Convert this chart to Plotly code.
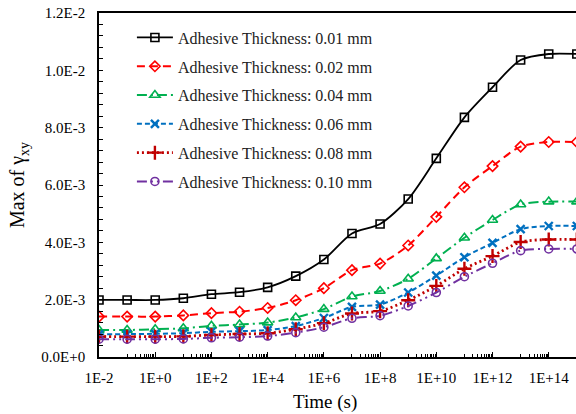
import plotly.graph_objects as go

# Time points (s), one per decade from 1E-2 to 1E+15
time_s = [1e-2, 1e-1, 1e0, 1e1, 1e2, 1e3, 1e4, 1e5, 1e6, 1e7,
          1e8, 1e9, 1e10, 1e11, 1e12, 1e13, 1e14, 1e15]

# Maximum shear strain gamma_xy for each adhesive thickness
gamma_001 = [0.00199, 0.00199, 0.00199, 0.00205, 0.00219, 0.00226, 0.00243, 0.00282, 0.00340,
             0.00431, 0.00464, 0.00551, 0.00693, 0.00836, 0.00941, 0.01036, 0.01057, 0.01057]
gamma_002 = [0.00141, 0.00141, 0.00141, 0.00145, 0.00153, 0.00158, 0.00171, 0.00198, 0.00240,
             0.00303, 0.00326, 0.00389, 0.00489, 0.00592, 0.00666, 0.00734, 0.00750, 0.00750]
gamma_004 = [0.00094, 0.00094, 0.00097, 0.00100, 0.00109, 0.00113, 0.00120, 0.00138, 0.00167,
             0.00211, 0.00230, 0.00273, 0.00344, 0.00416, 0.00478, 0.00532, 0.00542, 0.00542]
gamma_006 = [0.00079, 0.00080, 0.00081, 0.00083, 0.00088, 0.00090, 0.00094, 0.00108, 0.00136,
             0.00175, 0.00183, 0.00225, 0.00284, 0.00348, 0.00398, 0.00446, 0.00457, 0.00457]
gamma_008 = [0.00071, 0.00071, 0.00071, 0.00072, 0.00077, 0.00080, 0.00083, 0.00097, 0.00118,
             0.00152, 0.00160, 0.00198, 0.00248, 0.00308, 0.00352, 0.00401, 0.00410, 0.00410]
gamma_010 = [0.00062, 0.00062, 0.00062, 0.00063, 0.00067, 0.00069, 0.00073, 0.00085, 0.00104,
             0.00135, 0.00144, 0.00178, 0.00225, 0.00280, 0.00327, 0.00371, 0.00377, 0.00377]

series_names = ["Adhesive Thickness: 0.01 mm", "Adhesive Thickness: 0.02 mm",
                "Adhesive Thickness: 0.04 mm", "Adhesive Thickness: 0.06 mm",
                "Adhesive Thickness: 0.08 mm", "Adhesive Thickness: 0.10 mm"]
series_values = [gamma_001, gamma_002, gamma_004, gamma_006, gamma_008, gamma_010]

# Axis tick labels
x_tick_vals = [1e-2, 1e0, 1e2, 1e4, 1e6, 1e8, 1e10, 1e12, 1e14]
x_tick_text = ["1E-2", "1E+0", "1E+2", "1E+4", "1E+6", "1E+8", "1E+10", "1E+12", "1E+14"]
y_tick_vals = [0.0, 0.002, 0.004, 0.006, 0.008, 0.010, 0.012]
y_tick_text = ["0.0E+0", "2.0E-3", "4.0E-3", "6.0E-3", "8.0E-3", "1.0E-2", "1.2E-2"]

# minor ticks fill the odd decades (1E-1..9E-1, 1E+1..9E+1, ...)
x_minor_vals = [m * 10.0 ** e for e in range(-1, 16, 2) for m in range(1, 10)]

styles = [
    dict(color="#000000", dash="solid", width=1.8, symbol="square-open", size=8, mlw=1.6),
    dict(color="#FF0000", dash="8px,5px", width=2.0, symbol="diamond-open", size=8, mlw=1.6),
    dict(color="#00B050", dash="10px,4px,2px,4px", width=2.0, symbol="triangle-up-open", size=9, mlw=1.6),
    dict(color="#0070C0", dash="5px,3px", width=2.0, symbol="x-thin-open", size=8, mlw=2.4),
    dict(color="#C00000", dash="2px,3px", width=2.8, symbol="cross-thin-open", size=10, mlw=2.4),
    dict(color="#7030A0", dash="10px,4px,2px,4px,2px,4px", width=2.0, symbol="circle-open", size=8, mlw=1.6),
]

serif = "Liberation Serif, Times New Roman, serif"

fig = go.Figure()
for i, (name, vals, st) in enumerate(zip(series_names, series_values, styles)):
    fig.add_trace(go.Scatter(
        x=time_s, y=vals, name=name, mode="lines+markers",
        legendgroup=f"g{i}",
        line=dict(color=st["color"], dash=st["dash"], width=st["width"],
                  shape="spline", smoothing=0.8),
        marker=dict(symbol=st["symbol"], size=st["size"], color=st["color"],
                    line=dict(color=st["color"], width=st["mlw"])),
    ))

fig.update_layout(
    width=576, height=414,
    margin=dict(l=99, r=0, t=13, b=57),
    paper_bgcolor="white", plot_bgcolor="white",
    font=dict(family=serif, size=15, color="#000000"),
    showlegend=True,
    legend=dict(x=0.069, y=0.978, xanchor="left", yanchor="top",
                font=dict(family=serif, size=16, color="#222222"),
                itemwidth=36,
                bgcolor="rgba(0,0,0,0)", tracegroupgap=5),
    xaxis=dict(
        type="log", range=[-2, 14.97],
        showline=True, linecolor="#000000", linewidth=1.6, mirror=True,
        showgrid=False, zeroline=False,
        tickmode="array", tickvals=x_tick_vals, ticktext=x_tick_text,
        ticks="inside", ticklen=5, tickwidth=1.3, tickcolor="#000000",
        tickfont=dict(family=serif, size=15, color="#000000"),
        ticklabelstandoff=6,
        minor=dict(tickmode="array", tickvals=x_minor_vals, ticks="inside",
                   ticklen=3, tickwidth=1, tickcolor="#000000", showgrid=False),
    ),
    yaxis=dict(
        range=[0, 0.012],
        showline=True, linecolor="#000000", linewidth=1.6, mirror=False,
        showgrid=False, zeroline=False,
        tickmode="array", tickvals=y_tick_vals, ticktext=y_tick_text,
        ticks="inside", ticklen=4, tickwidth=1, tickcolor="#000000",
        tickfont=dict(family=serif, size=15, color="#000000"),
        ticklabelstandoff=9,
        minor=dict(dtick=0.0004, ticks="inside", ticklen=4, tickwidth=1,
                   tickcolor="#000000", showgrid=False),
        title=dict(text="Max of γ<sub>xy</sub>",
                   font=dict(family=serif, size=20, color="#000000"), standoff=11),
    ),
    annotations=[dict(
        text="Time (s)", xref="paper", yref="paper", x=0.474, y=-0.131,
        xanchor="center", yanchor="middle", showarrow=False,
        font=dict(family=serif, size=19, color="#000000"),
    )],
)

fig.write_html("out.html")
